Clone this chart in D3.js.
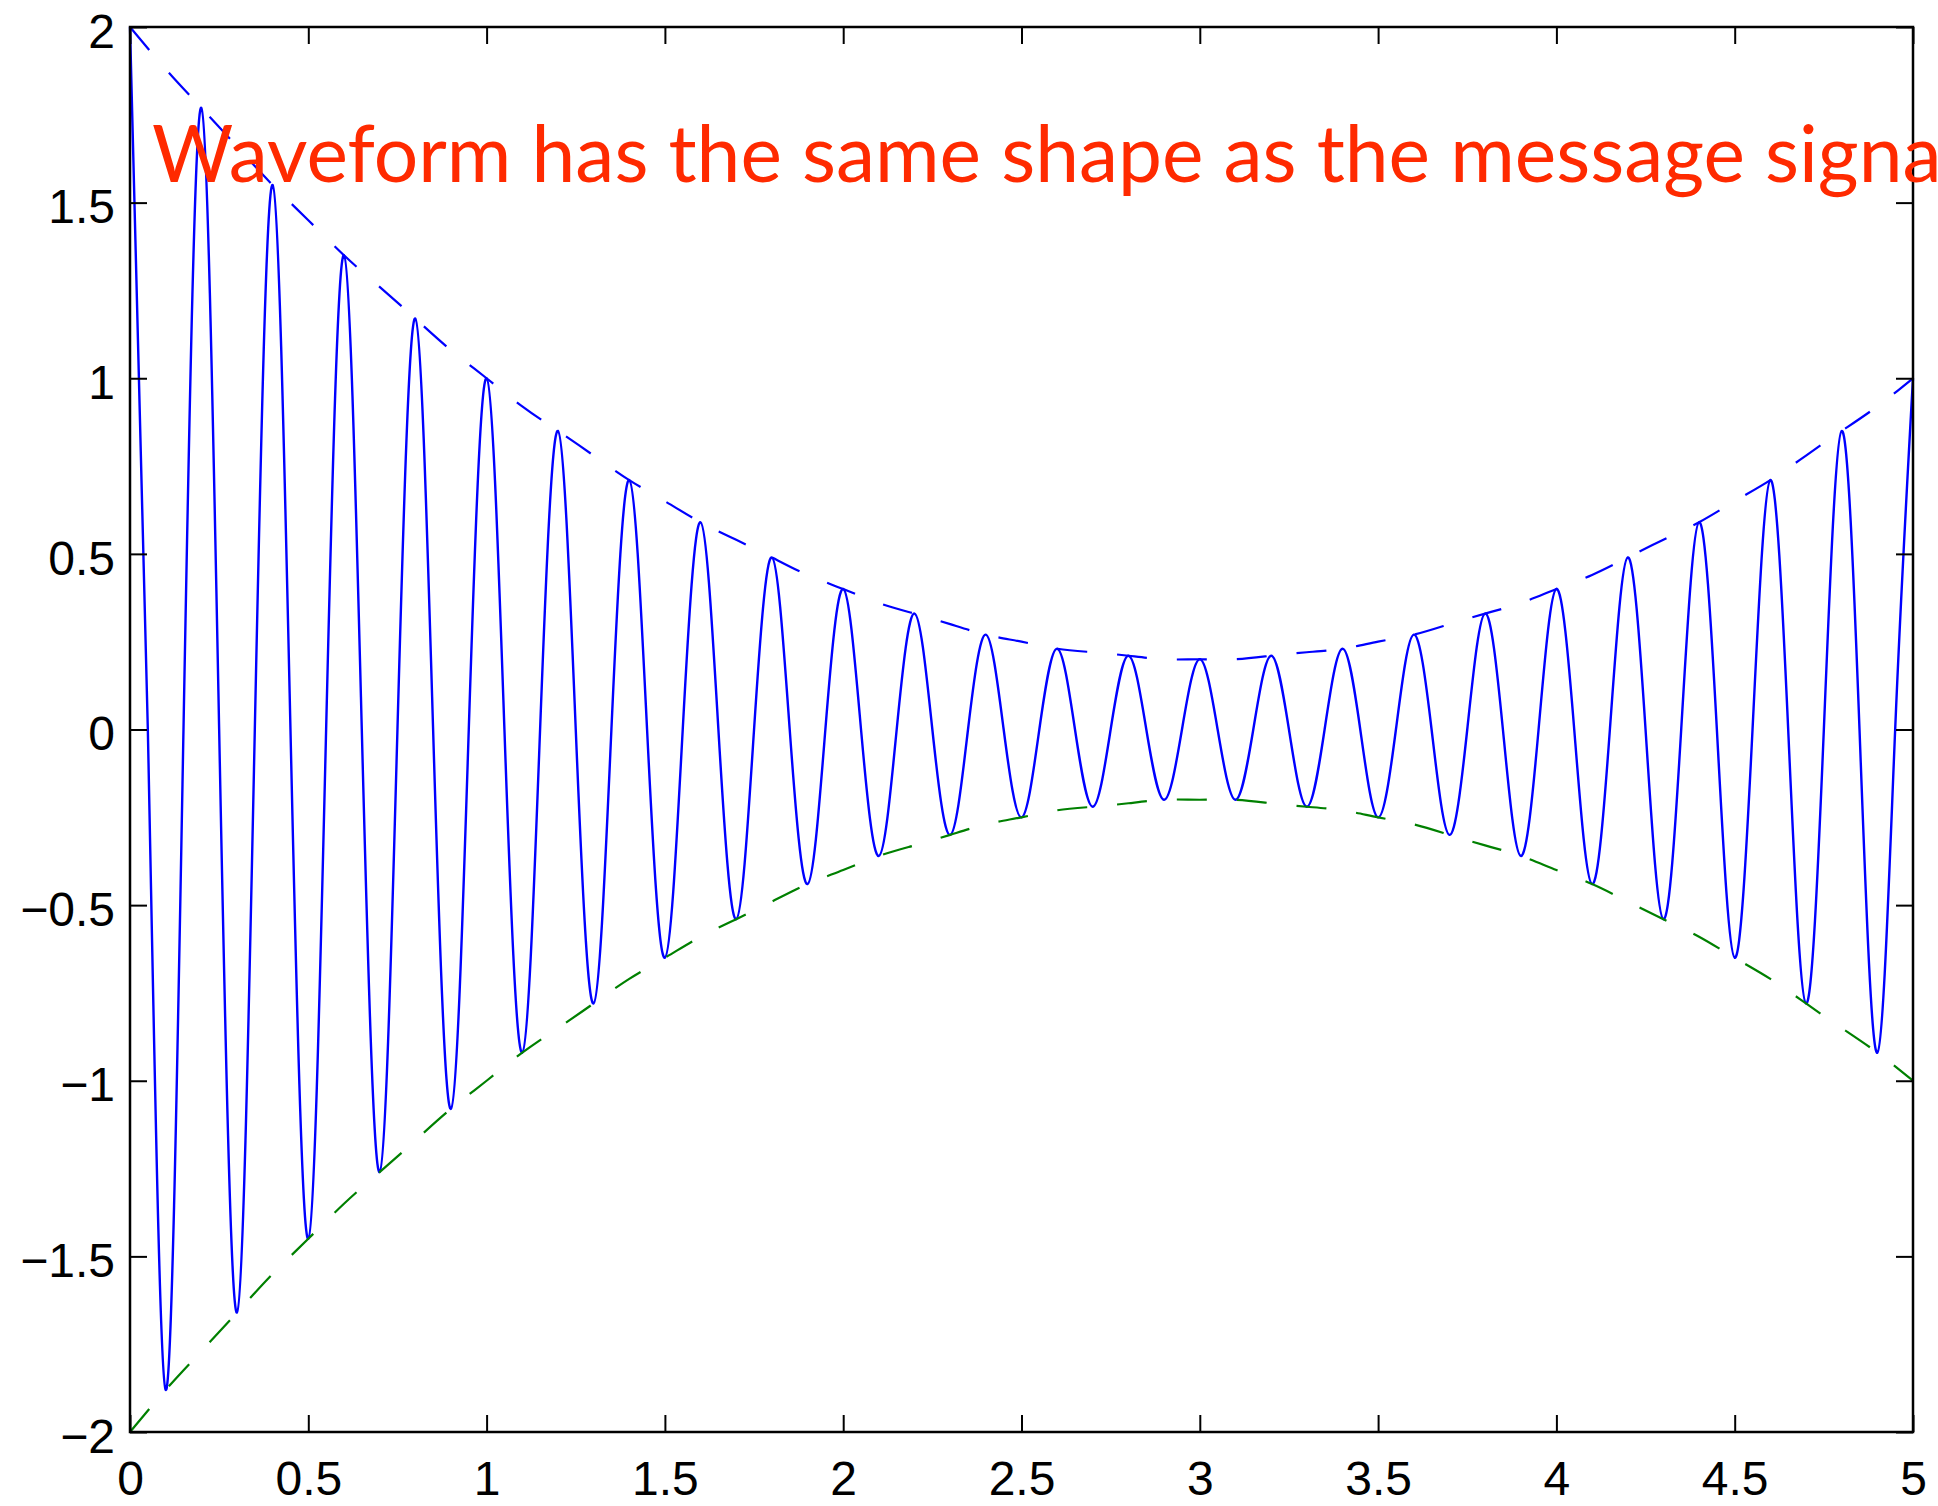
<!DOCTYPE html>
<html>
<head>
<meta charset="utf-8">
<script src="https://cdn.jsdelivr.net/npm/d3@7"></script>
<style>
  body { margin: 0; background: #fff; }
</style>
</head>
<body>
<div class="chart"></div>
<script>

// sample times of the extremes (every 0.1 s)
var times = [0, 0.1, 0.2, 0.3, 0.4, 0.5, 0.6, 0.7, 0.8, 0.9,
             1, 1.1, 1.2, 1.3, 1.4, 1.5, 1.6, 1.7, 1.8, 1.9,
             2, 2.1, 2.2, 2.3, 2.4, 2.5, 2.6, 2.7, 2.8, 2.9,
             3, 3.1, 3.2, 3.3, 3.4, 3.5, 3.6, 3.7, 3.8, 3.9,
             4, 4.1, 4.2, 4.3, 4.4, 4.5, 4.6, 4.7, 4.8, 4.9, 5];

// envelope
var envelope = [2.00, 1.88, 1.77, 1.66, 1.55, 1.45, 1.35, 1.26, 1.17, 1.08,
                1.00, 0.92, 0.85, 0.78, 0.71, 0.65, 0.59, 0.54, 0.49, 0.44,
                0.40, 0.36, 0.33, 0.30, 0.27, 0.25, 0.23, 0.22, 0.21, 0.20,
                0.20, 0.20, 0.21, 0.22, 0.23, 0.25, 0.27, 0.30, 0.33, 0.36,
                0.40, 0.44, 0.49, 0.54, 0.59, 0.65, 0.71, 0.78, 0.85, 0.92, 1.00];

// peaks / troughs of the modulated waveform
var extremes = [2.00, -1.88, 1.77, -1.66, 1.55, -1.45, 1.35, -1.26, 1.17, -1.08,
                1.00, -0.92, 0.85, -0.78, 0.71, -0.65, 0.59, -0.54, 0.49, -0.44,
                0.40, -0.36, 0.33, -0.30, 0.27, -0.25, 0.23, -0.22, 0.21, -0.20,
                0.20, -0.20, 0.21, -0.22, 0.23, -0.25, 0.27, -0.30, 0.33, -0.36,
                0.40, -0.44, 0.49, -0.54, 0.59, -0.65, 0.71, -0.78, 0.85, -0.92, 1.00];

// the waveform crosses zero halfway between extremes
var zeroTimes = [0.05, 0.15, 0.25, 0.35, 0.45, 0.55, 0.65, 0.75, 0.85, 0.95,
                 1.05, 1.15, 1.25, 1.35, 1.45, 1.55, 1.65, 1.75, 1.85, 1.95,
                 2.05, 2.15, 2.25, 2.35, 2.45, 2.55, 2.65, 2.75, 2.85, 2.95,
                 3.05, 3.15, 3.25, 3.35, 3.45, 3.55, 3.65, 3.75, 3.85, 3.95,
                 4.05, 4.15, 4.25, 4.35, 4.45, 4.55, 4.65, 4.75, 4.85, 4.95];

var xTicks = [0, 0.5, 1, 1.5, 2, 2.5, 3, 3.5, 4, 4.5, 5];
var yTicks = [-2, -1.5, -1, -0.5, 0, 0.5, 1, 1.5, 2];

var label = "Waveform has the same shape as the message signal";


var width = 1938, height = 1506;
var plotLeft = 130, plotRight = 1913, plotTop = 27, plotBottom = 1432;

var svg = d3.select(".chart").append("svg")
    .attr("width", width)
    .attr("height", height)
    .style("display", "block");

var x = d3.scaleLinear().domain([0, 5]).range([plotLeft, plotRight]);
var y = d3.scaleLinear().domain([-2, 2]).range([plotBottom, plotTop]);

function fmt(d) {
  return d < 0 ? "\u2212" + Math.abs(d) : String(d);
}

// build the waveform point table
var signal = [];
times.forEach(function(t, i) {
  signal.push([t, extremes[i]]);
  if (i < zeroTimes.length) signal.push([zeroTimes[i], 0]);
});

var upper = times.map(function(t, i) { return [t, envelope[i]]; });
var lower = times.map(function(t, i) { return [t, -envelope[i]]; });

var line = d3.line()
    .x(function(d) { return x(d[0]); })
    .y(function(d) { return y(d[1]); })
    .curve(d3.curveNatural);

svg.append("path")
    .datum(signal)
    .attr("d", line)
    .attr("fill", "none")
    .attr("stroke", "#0000ff")
    .attr("stroke-width", 2.4);

svg.append("path")
    .datum(upper)
    .attr("d", line)
    .attr("fill", "none")
    .attr("stroke", "#0000ff")
    .attr("stroke-width", 2.2)
    .attr("stroke-dasharray", "30,30");

svg.append("path")
    .datum(lower)
    .attr("d", line)
    .attr("fill", "none")
    .attr("stroke", "#008000")
    .attr("stroke-width", 2.2)
    .attr("stroke-dasharray", "30,30");

// axes, ticks pointing inward
var gx = svg.append("g")
    .attr("transform", "translate(0," + plotBottom + ")")
    .call(d3.axisBottom(x).tickValues(xTicks).tickFormat(fmt).tickSize(-17).tickPadding(29));

var gy = svg.append("g")
    .attr("transform", "translate(" + plotLeft + ",0)")
    .call(d3.axisLeft(y).tickValues(yTicks).tickFormat(fmt).tickSize(-17).tickPadding(15));

var gt = svg.append("g")
    .attr("transform", "translate(0," + plotTop + ")")
    .call(d3.axisTop(x).tickValues(xTicks).tickFormat("").tickSize(-17));

var gr = svg.append("g")
    .attr("transform", "translate(" + plotRight + ",0)")
    .call(d3.axisRight(y).tickValues(yTicks).tickFormat("").tickSize(-17));

[gx, gy, gt, gr].forEach(function(g) {
  g.select(".domain").remove();
  g.selectAll(".tick line").attr("stroke", "#000").attr("stroke-width", 2);
  g.selectAll(".tick text")
      .attr("fill", "#000")
      .style("font-family", "'Liberation Sans', Arial, Helvetica, sans-serif")
      .style("font-size", "48px");
});
gy.selectAll(".tick text").attr("dy", "0.42em");

svg.append("rect")
    .attr("x", plotLeft)
    .attr("y", plotTop)
    .attr("width", plotRight - plotLeft)
    .attr("height", plotBottom - plotTop)
    .attr("fill", "none")
    .attr("stroke", "#000")
    .attr("stroke-width", 2.5);

// annotation, runs off the right edge like the original
var text = svg.append("text")
    .text(label)
    .attr("x", 152)
    .attr("y", 182)
    .attr("fill", "#ff2a00")
    .style("font-family", "Lato, 'Open Sans', sans-serif")
    .style("font-size", "88px");

// fit "...message sign" so it ends where the original does
var w = text.node().getSubStringLength(0, label.indexOf("signal") + 4);
text.style("font-size", (88 * (1903 - 152) / w) + "px");

</script>
</body>
</html>
